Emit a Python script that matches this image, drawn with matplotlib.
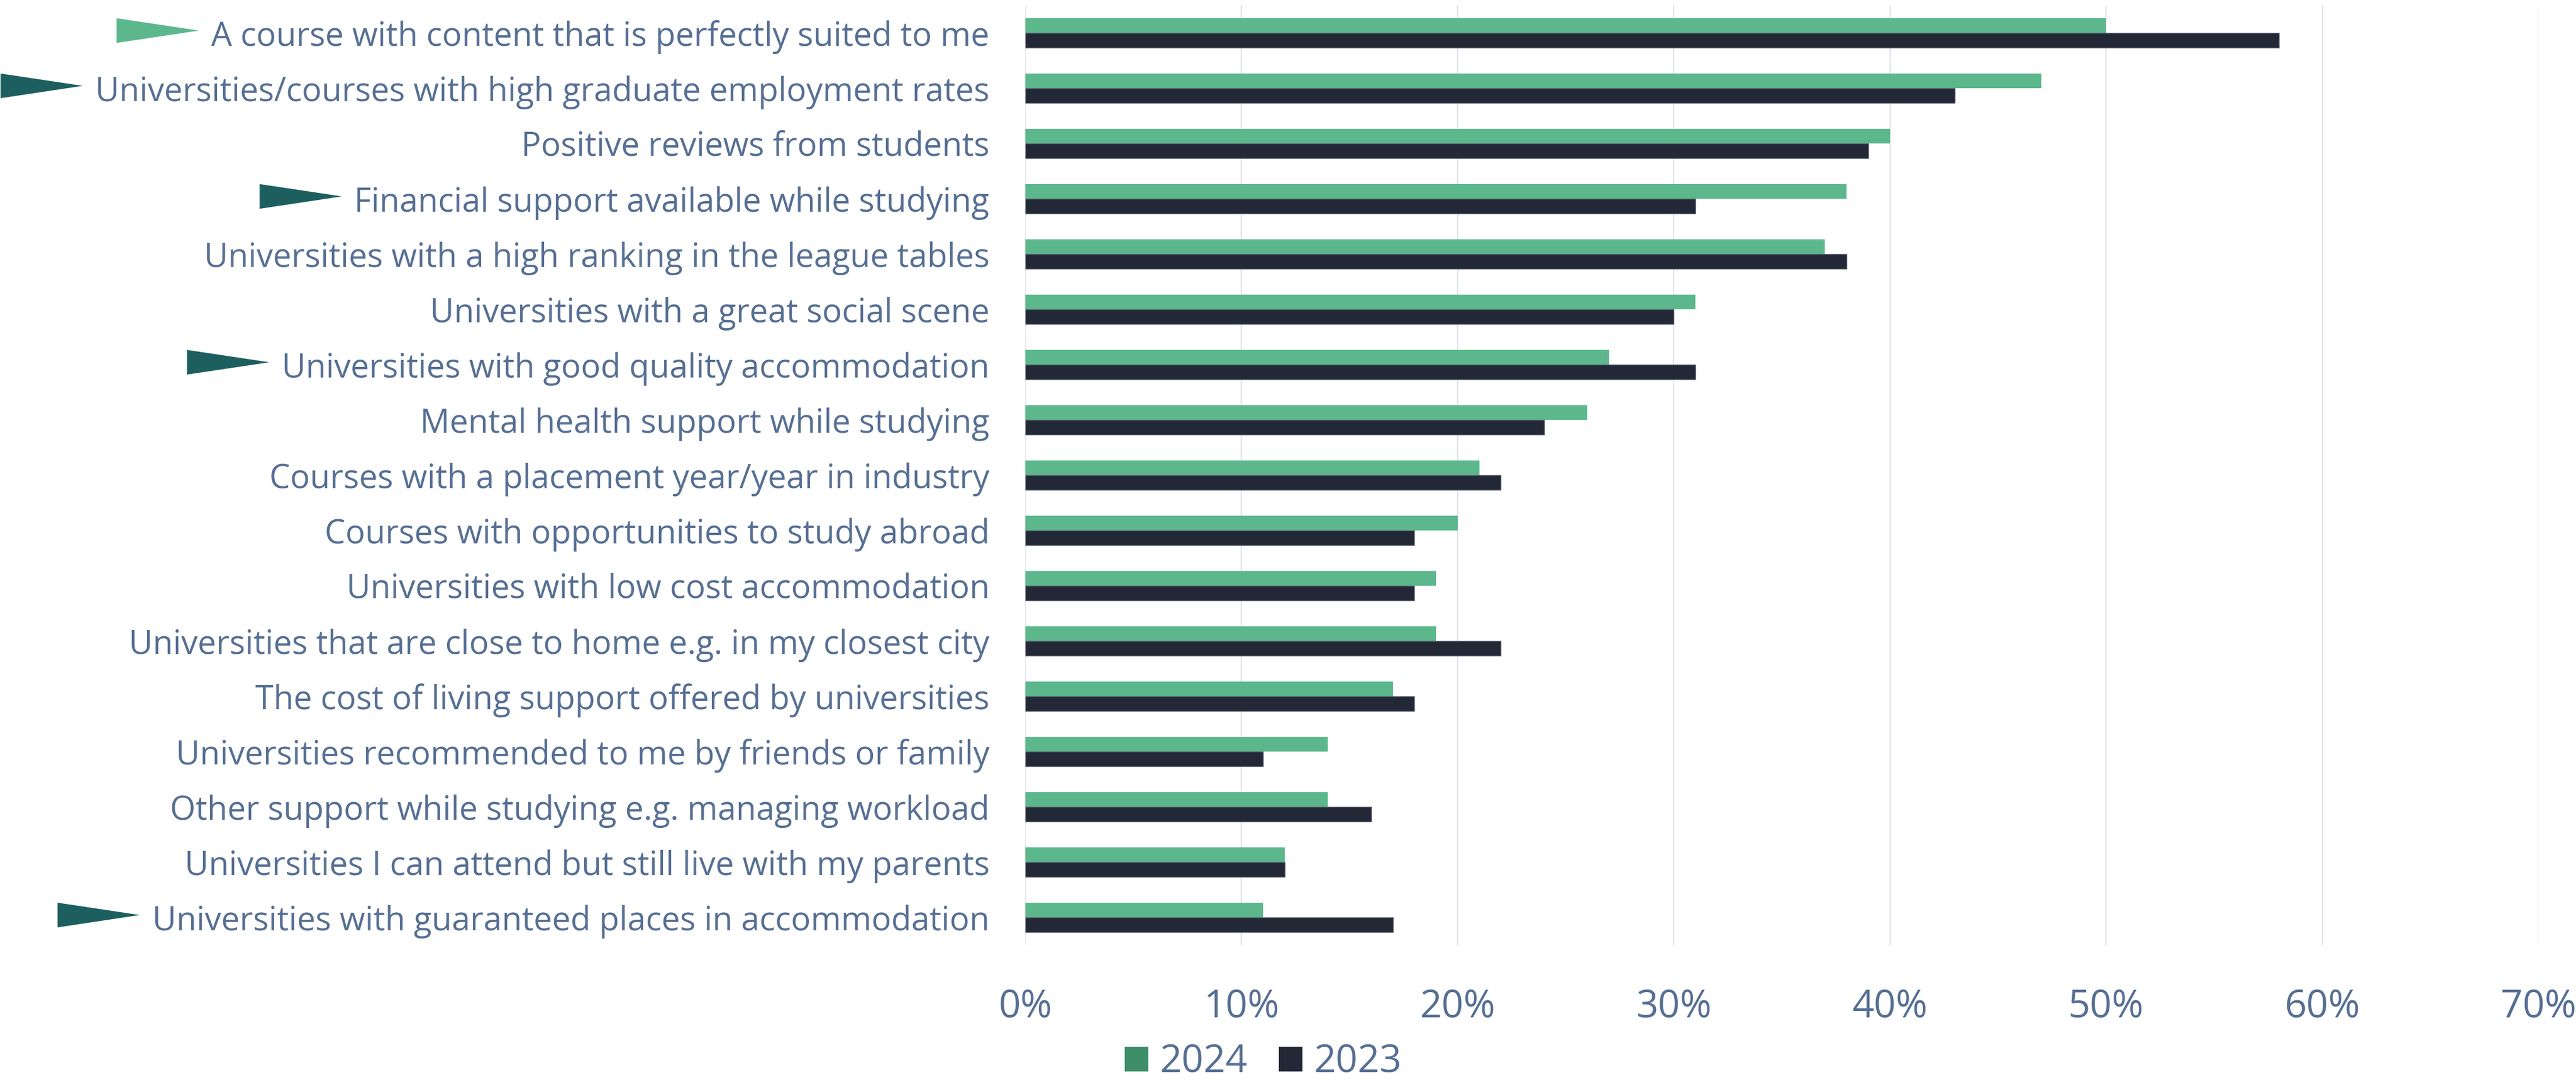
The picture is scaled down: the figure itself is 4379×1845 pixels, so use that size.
import matplotlib
matplotlib.use("Agg")
import matplotlib.pyplot as plt
import numpy as np
from matplotlib.patches import Polygon, Patch
from matplotlib.transforms import IdentityTransform
from matplotlib.ticker import PercentFormatter

categories = [
    "A course with content that is perfectly suited to me",
    "Universities/courses with high graduate employment rates",
    "Positive reviews from students",
    "Financial support available while studying",
    "Universities with a high ranking in the league tables",
    "Universities with a great social scene",
    "Universities with good quality accommodation",
    "Mental health support while studying",
    "Courses with a placement year/year in industry",
    "Courses with opportunities to study abroad",
    "Universities with low cost accommodation",
    "Universities that are close to home e.g. in my closest city",
    "The cost of living support offered by universities",
    "Universities recommended to me by friends or family",
    "Other support while studying e.g. managing workload",
    "Universities I can attend but still live with my parents",
    "Universities with guaranteed places in accommodation",
]
values_2024 = [50, 47, 40, 38, 37, 31, 27, 26, 21, 20, 19, 19, 17, 14, 14, 12, 11]
values_2023 = [58, 43, 39, 31, 38, 30, 31, 24, 22, 18, 18, 22, 18, 11, 16, 12, 17]
series_labels = ["2024", "2023"]
x_ticks = [0, 10, 20, 30, 40, 50, 60, 70]

# Marker wedges beside selected statements: index -> colour
highlight = {0: "#5CB88C", 1: "#1D5F5F", 3: "#1D5F5F", 6: "#1D5F5F", 16: "#1D5F5F"}

GREEN = "#5CB88C"
GREEN_LEGEND = "#3E8E6A"
DARK = "#222836"
TEXT = "#566F93"
GRID = "#DDE2EA"

plt.rcParams["font.family"] = ["Open Sans", "DejaVu Sans"]

W, H, DPI = 4379, 1845, 100
fig = plt.figure(figsize=(W / DPI, H / DPI), dpi=DPI)
ax = fig.add_axes([1743 / W, 1 - 1607 / H, (4315 - 1743) / W, (1607 - 9) / H])

y = np.arange(len(categories))
h = 0.262
ax.barh(y - h / 2, values_2024, height=h, color=GREEN, linewidth=0, zorder=3)
ax.barh(y + h / 2, values_2023, height=h, color=DARK, edgecolor="#5B6070",
        linewidth=1.0, zorder=3)

ax.set_xlim(0, 70)
ax.set_ylim(len(categories) - 0.5, -0.5)
ax.set_xticks(x_ticks)
ax.xaxis.set_major_formatter(PercentFormatter(decimals=0))
ax.set_yticks(y)
ax.set_yticklabels(categories)

ax.grid(axis="x", color=GRID, linewidth=1.5, zorder=0)
ax.set_axisbelow(True)
for s in ax.spines.values():
    s.set_visible(False)

ax.tick_params(axis="y", length=0, pad=44, labelsize=40.2, labelcolor=TEXT)
ax.tick_params(axis="x", length=0, pad=53, labelsize=47, labelcolor=TEXT)

handles = [Patch(facecolor=GREEN_LEGEND, edgecolor="none"),
           Patch(facecolor=DARK, edgecolor="none")]
leg = fig.legend(handles, series_labels, loc="center left",
                 bbox_to_anchor=(1912 / W, 1 - 1807 / H), ncol=2, frameon=False,
                 fontsize=47, handlelength=0.62, handleheight=0.63,
                 handletextpad=0.3, columnspacing=0.8, borderpad=0, borderaxespad=0)
for t in leg.get_texts():
    t.set_color(TEXT)

# Wedges placed just left of the label text
fig.canvas.draw()
renderer = fig.canvas.get_renderer()
labels = ax.get_yticklabels()
tw, th, gap = 140, 42, 21
for idx, col in highlight.items():
    bb = labels[idx].get_window_extent(renderer)
    yc = ax.transData.transform((0, y[idx]))[1] + 4
    tip = bb.x0 - gap
    tri = Polygon([[tip - tw, yc + th / 2], [tip - tw, yc - th / 2], [tip, yc]],
                  closed=True, facecolor=col, edgecolor="none",
                  transform=IdentityTransform())
    fig.add_artist(tri)

fig.savefig("out.png", dpi=DPI, facecolor="white")
